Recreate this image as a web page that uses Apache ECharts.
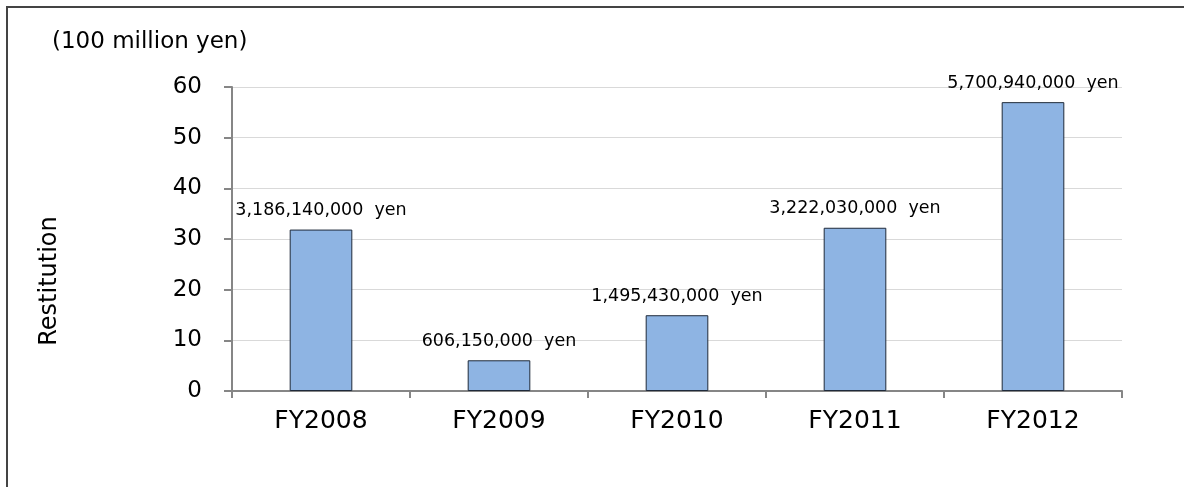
<!DOCTYPE html>
<html>
<head>
<meta charset="utf-8">
<script src="https://cdn.jsdelivr.net/npm/echarts@6/dist/echarts.min.js"></script>
<style>
html,body{margin:0;padding:0;background:#fff;}
#c{width:1184px;height:487px;}
</style>
</head>
<body>
<div id="c"></div>
<script>
const categories = ['FY2008', 'FY2009', 'FY2010', 'FY2011', 'FY2012'];
const values = [31.8614, 6.0615, 14.9543, 32.2203, 57.0094];
const labels = ['3,186,140,000  yen', '606,150,000  yen', '1,495,430,000  yen', '3,222,030,000  yen', '5,700,940,000  yen'];
const yTicks = [0, 10, 20, 30, 40, 50, 60];

const chart = echarts.init(document.getElementById('c'));
const font = '"DejaVu Sans", sans-serif';
chart.setOption({
  animation: false,
  backgroundColor: '#fff',
  grid: { left: 232, right: 62, top: 87, bottom: 96, containLabel: false },
  xAxis: {
    type: 'category',
    data: categories,
    axisLine: { lineStyle: { color: '#868686', width: 2 } },
    axisTick: { show: true, length: 7, lineStyle: { color: '#868686', width: 2 } },
    axisLabel: { color: '#000', fontSize: 25, fontFamily: font, margin: 18 }
  },
  yAxis: {
    type: 'value',
    min: yTicks[0], max: yTicks[yTicks.length - 1], interval: 10,
    axisLine: { show: true, lineStyle: { color: '#868686', width: 2 } },
    axisTick: { show: true, length: 8, lineStyle: { color: '#868686', width: 2 } },
    axisLabel: { color: '#000', fontSize: 23, fontFamily: font, margin: 30 },
    splitLine: { show: true, lineStyle: { color: '#d9d9d9', width: 1 } }
  },
  series: [{
    type: 'bar',
    data: values,
    barWidth: '35.2%',
    itemStyle: { color: '#8EB4E3', borderColor: '#1f2a3a', borderWidth: 1 },
    label: {
      show: true, position: 'top', distance: 10,
      color: '#000', fontSize: 17.5, fontFamily: font,
      formatter: p => labels[p.dataIndex]
    }
  }],
  graphic: [
    { type: 'line', shape: { x1: 6, y1: 7, x2: 1184, y2: 7 }, style: { stroke: '#444', lineWidth: 2 } },
    { type: 'line', shape: { x1: 7, y1: 6, x2: 7, y2: 487 }, style: { stroke: '#444', lineWidth: 2 } },
    { type: 'text', x: 52, y: 42, style: { text: '(100 million yen)', fill: '#000', fontSize: 23, fontFamily: font, verticalAlign: 'middle' } },
    { type: 'text', x: 50, y: 281, rotation: Math.PI / 2, style: { text: 'Restitution', fill: '#000', fontSize: 24, fontFamily: font, align: 'center', verticalAlign: 'middle' } }
  ]
});
</script>
</body>
</html>
